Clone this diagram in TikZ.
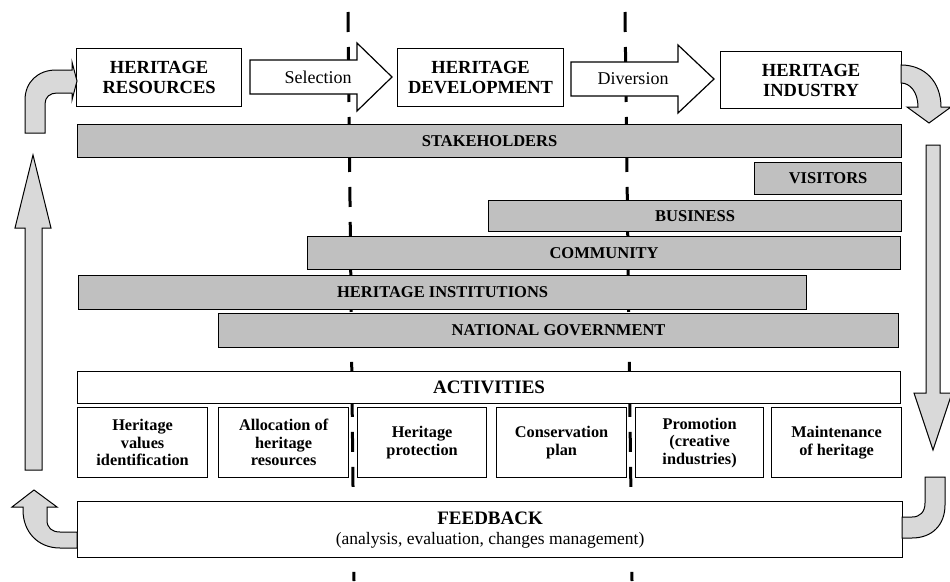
\documentclass[tikz,border=0pt]{standalone}
\usepackage{fontspec}
\setmainfont{Liberation Serif}
\definecolor{barfill}{RGB}{192,192,192}
\definecolor{arrowfill}{RGB}{217,217,217}
\tikzset{
  box/.style={draw, line width=1.2pt, fill=white, inner sep=0pt, anchor=north west, align=center},
  topbox/.style={box, font=\fontsize{18.5}{20}\selectfont\bfseries},
  bar/.style={box, fill=barfill, font=\fontsize{16.5}{18}\selectfont\bfseries},
  actbox/.style={box, font=\fontsize{16.3}{17.5}\selectfont\bfseries},
  flow/.style={draw, line width=1.2pt, fill=white},
  bendarrow/.style={draw, line width=1pt, fill=arrowfill},
  divider/.style={line width=3pt, dash pattern=on 20pt off 15pt},
  flowlabel/.style={font=\fontsize{18}{20}\selectfont}
}
\begin{document}
\begin{tikzpicture}[x=1pt,y=-1pt]
\useasboundingbox (0,0) rectangle (950,581);

% dividers
\coordinate (d1t) at (348,12);
\coordinate (d1b) at (354,581);
\coordinate (d2t) at (625,12);
\coordinate (d2b) at (632,581);
\draw[divider] (d1t) -- (d1b);
\draw[divider] (d2t) -- (d2b);

% top flow
\node[topbox, minimum width=165, minimum height=58] (res) at (76,48) {HERITAGE\\RESOURCES};
\node[topbox, minimum width=166, minimum height=58] (dev) at (397,48) {HERITAGE\\DEVELOPMENT};
\node[topbox, minimum width=181, minimum height=57] (ind) at (720,51) {HERITAGE\\INDUSTRY};

\draw[flow] (250,60) -- (357,60) -- (357,43) -- (392,77) -- (357,111) -- (357,94) -- (250,94) -- cycle;
\node[flowlabel] (sel) at (318,77) {Selection};
\draw[flow] (571,62) -- (678,62) -- (678,45) -- (714,79) -- (678,113) -- (678,96) -- (571,96) -- cycle;
\node[flowlabel] (div) at (633,79) {Diversion};

% stakeholders
\node[bar, minimum width=824, minimum height=33] (stake) at (77,124) {STAKEHOLDERS};
\node[bar, minimum width=147, minimum height=32] (vis) at (754,162) {VISITORS};
\node[bar, minimum width=413, minimum height=31] (bus) at (488,200) {BUSINESS};
\node[bar, minimum width=593, minimum height=33] (com) at (307,236) {COMMUNITY};
\node[bar, minimum width=728, minimum height=34] (inst) at (78,275) {HERITAGE INSTITUTIONS};
\node[bar, minimum width=680, minimum height=34] (gov) at (218,313) {NATIONAL GOVERNMENT};

% activities
\node[box, minimum width=823, minimum height=32, font=\fontsize{19}{20}\selectfont\bfseries] (act) at (77,371) {ACTIVITIES};
\node[actbox, minimum width=130, minimum height=70] (a1) at (77,407) {Heritage\\values\\identification};
\node[actbox, minimum width=130, minimum height=70] (a2) at (218,407) {Allocation of\\heritage\\resources};
\node[actbox, minimum width=129, minimum height=70] (a3) at (357,407) {Heritage\\protection};
\node[actbox, minimum width=130, minimum height=70] (a4) at (496,407) {Conservation\\plan};
\node[actbox, minimum width=128, minimum height=70] (a5) at (635,407) {Promotion\\(creative\\industries)};
\node[actbox, minimum width=130, minimum height=70] (a6) at (771,407) {Maintenance\\of heritage};

% feedback
\node[box, minimum width=825, minimum height=56, font=\fontsize{17.5}{20}\selectfont] (fb) at (77,501)
  {{\fontsize{19}{20}\selectfont\bfseries FEEDBACK}\\(analysis, evaluation, changes management)};

% loop arrows
\draw[bendarrow] (25,133) -- (25,100) .. controls (25,82) and (38,70) .. (56,70) -- (72,70) -- (72,62) -- (77,81) -- (72,100) -- (72,93) -- (57,93) .. controls (50,93) and (45,97) .. (45,104) -- (45,133) -- cycle;
\draw[bendarrow] (901,65) .. controls (925,65) and (941,82) .. (941,107) -- (951,107) -- (929,123) -- (907,107) -- (918,107) .. controls (918,92) and (910,83) .. (901,83) -- cycle;
\draw[bendarrow] (926,145) -- (940,145) -- (940,393) -- (952,393) -- (933,450) -- (914,393) -- (926,393) -- cycle;
\draw[bendarrow] (925,477) -- (945,477) -- (945,505) .. controls (945,525) and (932,538) .. (912,538) -- (902,538) -- (902,517) -- (912,517) .. controls (920,517) and (925,512) .. (925,503) -- cycle;
\draw[bendarrow] (77,548) -- (60,548) .. controls (38,548) and (23,532) .. (23,510) -- (23,507) -- (12,507) -- (34,490) -- (57,507) -- (47,507) -- (47,520) .. controls (47,528) and (52,532) .. (60,532) -- (77,532) -- cycle;
\draw[bendarrow] (25,470) -- (25,228) -- (15,228) -- (33,155) -- (51,228) -- (42,228) -- (42,470) -- cycle;
\end{tikzpicture}
\end{document}
